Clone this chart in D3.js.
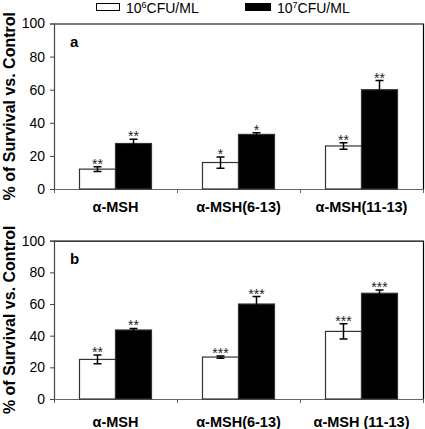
<!DOCTYPE html>
<html><head><meta charset="utf-8">
<script src="https://cdn.jsdelivr.net/npm/d3@7"></script>
<style>body{margin:0;background:#fff}svg{display:block;font-family:"Liberation Sans",Arial,sans-serif}</style>
</head><body><svg id="c" width="425" height="429"></svg>
<script>
const seriesNames = ["10^6CFU/ML", "10^7CFU/ML"];
const yTicks = [0, 20, 40, 60, 80, 100];
const categoriesA = ["α-MSH", "α-MSH(6-13)", "α-MSH(11-13)"];
const categoriesB = ["α-MSH", "α-MSH(6-13)", "α-MSH (11-13)"];
const aLow = [12, 16, 26];
const aLowErr = [1.5, 3.4, 2];
const aHigh = [27.5, 33, 60];
const aHighErr = [2.5, 1, 5.5];
const aLowSig = ["**", "*", "**"];
const aHighSig = ["**", "*", "**"];
const bLow = [25, 26.5, 42.7];
const bLowErr = [2.8, 0.7, 4.8];
const bHigh = [43.6, 60, 66.8];
const bHighErr = [1, 4.7, 2];
const bLowSig = ["**", "***", "***"];
const bHighSig = ["**", "***", "***"];

const svg = d3.select("#c");
const fills = ["#fff", "#000"];

// legend
const leg = [{x: 96, w: 23, base: "10", sup: "6", rest: "CFU/ML"}, {x: 245, w: 25, base: "10", sup: "7", rest: "CFU/ML"}];
leg.forEach((l, i) => {
  svg.append("rect").attr("x", l.x + 0.5).attr("y", 3.5).attr("width", l.w).attr("height", 7)
    .attr("fill", fills[i]).attr("stroke", "#000").attr("stroke-width", 1);
  const t = svg.append("text").attr("x", l.x + l.w + 7).attr("y", 12.5).attr("font-size", 14).attr("fill", "#000");
  t.append("tspan").text(l.base);
  t.append("tspan").attr("font-size", 9).attr("dy", -5).text(l.sup);
  t.append("tspan").attr("dy", 5).text(l.rest);
});

const panels = [
  {cats: categoriesA, low: aLow, lowErr: aLowErr, high: aHigh, highErr: aHighErr, lowSig: aLowSig, highSig: aHighSig,
   y0: 189, y1: 23.5, letter: "a", labelY: 212},
  {cats: categoriesB, low: bLow, lowErr: bLowErr, high: bHigh, highErr: bHighErr, lowSig: bLowSig, highSig: bHighSig,
   y0: 399, y1: 240.7, letter: "b", labelY: 427}
];

const left = 54, right = 423;

panels.forEach(p => {
  const g = svg.append("g");
  const x = d3.scaleBand().domain(p.cats).range([left, right]).paddingInner(0).paddingOuter(0);
  const xs = d3.scaleBand().domain([0, 1]).range([x.bandwidth() / 2 - 36, x.bandwidth() / 2 + 36]);
  const y = d3.scaleLinear().domain([0, 100]).range([p.y0, p.y1]);

  // frame top and right
  g.append("path").attr("d", `M${left},${y(100) + 0.5}H${right + 0.5}V${y(0)}`)
    .attr("fill", "none").attr("stroke", "#000").attr("stroke-width", 1.2);

  // y axis
  const ya = g.append("g").attr("transform", `translate(${left},0)`)
    .call(d3.axisLeft(y).tickValues(yTicks).tickSize(4).tickPadding(5));
  ya.select(".domain").attr("stroke", "#444").attr("stroke-width", 1.2);
  ya.selectAll(".tick line").attr("stroke", "#444");
  ya.selectAll(".tick text").attr("font-size", 14).attr("fill", "#000").attr("font-family", "Liberation Sans, Arial");

  // x axis
  const xa = g.append("g").attr("transform", `translate(0,${p.y0})`)
    .call(d3.axisBottom(x).tickSize(0).tickFormat(""));
  xa.select(".domain").attr("stroke", "#666").attr("stroke-width", 1.2);
  const bounds = p.cats.map(c => x(c)).concat([right]);
  g.selectAll(".bt").data(bounds).enter().append("line")
    .attr("x1", d => d + 0.5).attr("x2", d => d + 0.5).attr("y1", p.y0).attr("y2", p.y0 + 4)
    .attr("stroke", "#666").attr("stroke-width", 1);
  g.selectAll(".xl").data(p.cats).enter().append("text")
    .attr("x", d => x(d) + x.bandwidth() / 2).attr("y", p.labelY)
    .attr("text-anchor", "middle").attr("font-size", 14.5).attr("font-weight", "bold").attr("fill", "#000")
    .text(d => d);

  const series = [
    {vals: p.low, errs: p.lowErr, sig: p.lowSig},
    {vals: p.high, errs: p.highErr, sig: p.highSig}
  ];
  series.forEach((s, si) => {
    const bars = p.cats.map((c, i) => ({c, v: s.vals[i], e: s.errs[i], sig: s.sig[i]}));
    g.selectAll(".bar" + si).data(bars).enter().append("rect")
      .attr("x", d => x(d.c) + xs(si)).attr("width", xs.bandwidth())
      .attr("y", d => y(d.v)).attr("height", d => y(0) - y(d.v))
      .attr("fill", fills[si]).attr("stroke", "#333").attr("stroke-width", 1.2);
    const cx = d => x(d.c) + xs(si) + xs.bandwidth() / 2;
    g.selectAll(".eb" + si).data(bars).enter().append("path")
      .attr("d", d => {
        const t = y(d.v + d.e), b = y(d.v - d.e), c = cx(d);
        return `M${c},${t}V${b}M${c - 4},${t}H${c + 4}M${c - 4},${b}H${c + 4}`;
      })
      .attr("stroke", "#000").attr("stroke-width", 1.5).attr("fill", "none");
    g.selectAll(".sg" + si).data(bars).enter().append("text")
      .attr("x", cx).attr("y", d => y(d.v + d.e) + 2)
      .attr("text-anchor", "middle").attr("font-size", 14).attr("fill", "#222")
      .text(d => d.sig);
  });

  g.append("text").attr("x", 70).attr("y", y(100) + 23.5).attr("font-size", 15).attr("font-weight", "bold")
    .attr("fill", "#000").text(p.letter);

  g.append("text").attr("transform", `translate(15,${(p.y0 + p.y1) / 2}) rotate(-90)`)
    .attr("text-anchor", "middle").attr("font-size", 16).attr("font-weight", "bold").attr("fill", "#000")
    .text("% of Survival vs. Control");
});
</script></body></html>
